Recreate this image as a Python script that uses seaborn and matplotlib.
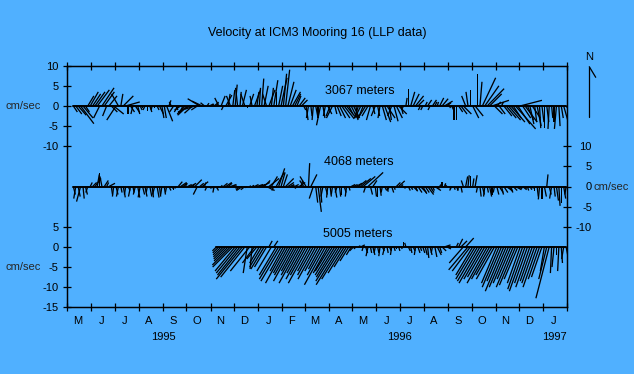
import numpy as np
import pandas as pd
import matplotlib
matplotlib.use("Agg")
import matplotlib.pyplot as plt
from matplotlib.lines import Line2D
import seaborn as sns

# ---------------- data ----------------
t0 = pd.Timestamp("1995-05-01")
month_letters = ["M", "J", "J", "A", "S", "O", "N", "D", "J", "F", "M",
                 "A", "M", "J", "J", "A", "S", "O", "N", "D", "J"]
year_labels = ["1995", "1996", "1997"]
year_dates = ["1995-09-01", "1996-07-01", "1997-01-16"]
depth_labels = ["3067 meters", "4068 meters", "5005 meters"]
depth_offsets = [0, -20, -35]          # baseline of each depth on the shared axis
first_month = [0, 0, 6]                # May 1995, May 1995, Nov 1995

left_tick_pos = [10, 5, 0, -5, -10, -30, -35, -40, -45, -50]
left_tick_lab = ["10", "5", "0", "-5", "-10", "5", "0", "-5", "-10", "-15"]
right_tick_pos = [-10, -15, -20, -25, -30]
right_tick_lab = ["10", "5", "0", "-5", "-10"]

# 3067 m : east (u) and north (v) velocity, cm/s, 10 samples per month (May95..Jan97)
u_3067 = [0, 0, 1, 1.5, 2, 3.3, 2.5, 1, 1.5, 2,
          2, 2.5, 3, -1.5, 3, 2.5, -1, 2, 1.5, 2.5,
          -2.3, -1.7, 0.5, 2.5, 3.5, 0, 1, -0.5, 1, 0.5,
          0.5, 0, -0.5, 0, 0.5, -0.3, 0, 0.5, 1, 0.5,
          0.5, 1.5, 0.5, -0.5, -1, 0.5, -1, -1.5, -1, -2,
          -2.5, -3, -2, -2.5, -1.5, -3, -2.5, -1, 0.5, 1,
          0.5, 1, 0.5, -1, 1, -0.5, 1.5, 0.5, -1, 0.5,
          0.5, -0.5, 0.3, 1, -1, 0, 1, -0.5, 1.5, 0.5,
          0.3, 0.5, 1, -1, 1.5, 0.5, 1, 0, 1, 1.5,
          0.8, 1, 1.5, 1.5, 2, 1.5, 1, 1.5, 1.5, 0.5,
          0.5, -0.5, 0.3, -0.3, 0.5, 0, -1, 0.5, -0.5, 1,
          -1, -1.5, 0.5, 1, 1.5, 2, 2.5, 2, 1, 1.5,
          1.5, 0.5, -1, -1.5, -1, -2, -1.5, -1, 0.5, -1,
          0.5, -0.5, 1, 1.5, 2, 0.5, -1, 1, 1.5, 2,
          0.5, -0.5, 0.3, 0, 1, 1.5, 2, 1.5, -0.5, -0.5,
          0.5, 1, -0.5, 1, 0.5, 0.3, 1, 1.5, 2, 1,
          0.3, 0.5, 0, 0, 1, 1.5, 2, -1, -0.5, 0,
          1.5, 2, 0, 0.5, 3.3, 3.5, 4.2, 3, 4.2, 2,
          1, 1.5, 0.5, 2, 2.5, 3, 3.5, 2, 5, 3,
          5.4, 2, 3, 1.5, 1, 2, 0.5, 1, 0.3, 0.5,
          0, 0.5, -0.3, 0.3, 0, -0.5, 0.3, 0.5, 1, 1.5]
v_3067 = [0, 0, -1.5, -2, -2.3, -4.4, -3, -1.5, 2.5, 3.5,
          3, 3.5, 4, -3, 4.5, 3.5, -2.5, 2.5, -1.5, -2,
          -3.5, 3, 3, 2.5, 1, -2, -1.5, -2, -1.5, -2,
          -1, -0.5, -1, -1.3, -1.5, -1, -0.5, -1, -2, -3,
          -3, -3.8, 1.4, 1, -1.5, -1, -1.5, -1, -2, -2,
          -2.3, -1.5, -1.8, -0.8, -1, 1.8, 1.2, 0.8, 0.7, 0.5,
          0.5, 0.8, 1, 2, 2.5, -1, 2.7, 3, 2.5, 4,
          5.3, 4.5, 3.5, 4, 3, -0.5, 3, 2.5, 4, 3.5,
          4.5, 6.8, 5, 3, 4, 4.5, 6.4, 3.5, 5, 7,
          8, 9, 6, 4, 3.5, 3, 2.5, 2, 1.5, -1,
          -3.5, -3, -2.5, -3.5, -2.5, -3, -4.8, -3, -2.5, -2,
          -2.5, -3, -2, -2.5, -3, -3, -3.2, -2.5, -2, -3,
          -3, -3.5, -3, -3, -2.5, -3.2, -2.5, -3.5, -2, -2.5,
          -2.5, -3, -3.5, -4, -3, -3.5, -2.5, -3.8, -3, -2,
          -2, -1, 2, 4.3, 3.5, 3, 2.5, 1.5, -1, -1,
          1, 1.5, -1, 1.5, 1, 1, 2, 1.8, 1.2, 0.8,
          -0.5, -1, -3.6, -3.4, -1.5, -2, -2, 2.5, 3.5, 4,
          -3, -2.5, 8, 6, 7, 5, 4.3, 3, 1.4, -2,
          1, -2, 1, -2.5, -3, -3.5, -4, -3, -5.7, -4.5,
          1.4, -3, -4, -3.5, -4.5, -3, -4, -5, -5.5, -4,
          -5.5, -4, -5.7, -3, -4, -5.7, -5, -3, -3.5, -2]

# 4068 m
u_4068 = [0, 0, 0.5, -0.5, 0.5, -1, 0.3, 0.5, -0.5, 0.5,
          1, 1.5, 0.5, 0, -0.5, 1, 0.5, 1.5, 0.3, -0.3,
          0.5, -0.5, 0.3, 0.5, -0.3, 0.5, -0.5, 0.3, -0.5, 0.5,
          -0.5, 0.5, 0.5, -0.3, 0.5, 0.3, -0.5, 0.5, 0.3, -0.3,
          0.3, -0.3, 0.5, 0.5, 0, -0.3, 1, 1.5, 1, 0.5,
          1, 1.5, 0.5, 1.7, -1, 1, 1.5, 0.3, -0.5, 0.5,
          0.5, -0.3, 0.5, -0.5, 0.3, 1, 1.5, 1, 1.5, 0.5,
          0.3, -0.5, -1, -1.5, -1, -0.5, 0.3, 0.5, 1, 1.5,
          1.5, 2, 1.5, 2, 2.5, 1.5, -0.5, 2, 1.5, 1,
          1, 2, 1.5, 1, 0.5, 1, -0.5, 1.5, 0.3, -1,
          -1.5, 0.3, 1.5, -1, 0.5, 0.8, 0.3, -0.5, 0.5, -0.3,
          0.3, -0.3, 0.5, -0.5, 0.3, 0, 0.5, -0.3, 0.3, 1,
          1, 1.5, 2, 2.5, 3, -0.5, 3.75, 0.5, 1, 0.3,
          0, 0.3, -0.3, 0.5, 0.3, -0.5, 0.5, 0.3, 1, 1.5,
          0.5, 0.3, -0.3, 0.5, 0.5, 1, 0.5, 1, 1.5, 1,
          1, 1.5, 1, 0.5, 1.5, 0.5, 0.3, 0, 0.3, -0.5,
          0.3, -0.5, 0.3, 0.5, -0.3, 0.3, -0.5, 0.5, 0.3, 0,
          0.3, 0.5, -0.3, 0.3, 0.5, -0.3, 0.3, 0.5, 0, -0.3,
          0.5, 1, 0.5, 1, 1.5, 1, 0.5, 1, 1.5, 1,
          0.5, 1, 0.5, 0.3, 0.5, 0.3, 0, 0.3, -0.3, 0,
          0.5, 0.3, 0.5, -0.5, 0.3, 0.5, 0.3, 0, 0.5, -0.3]
v_4068 = [0, 0, -2, -3, -2.5, -3.75, -3, -2, -1.5, 1,
          1, 2, 3, 3.3, 2.5, 1.5, 1, 0.8, -2, -2.5,
          -2, -2.5, -1.5, -2.7, -2, -1, -2.5, -1.5, -2, -2.75,
          -2.7, -2, -2.5, -1.5, -2.5, -2.7, -2, -2.75, -2.5, -2,
          -2, -1.5, -1, -0.5, -0.8, -0.5, 1.2, 1, 0.8, 0.8,
          0.5, 0.8, 0.5, 1.7, -2, 0.8, 1.2, 1, -1, -0.5,
          -0.5, -1.5, -1, -0.5, 0.3, 0.8, 1, 0.8, 0.5, 0.3,
          0.3, -0.5, -0.8, -1, -0.8, -0.3, 0.2, 0.3, 0.5, 0.5,
          0.5, 1, 1.5, -1, 2, 2.5, -1, 3.5, 4.5, 3.5,
          3, 2, 1, 0.5, 0.3, 0.5, -0.5, 1, 1.5, 1.5,
          2.5, 5.8, 3, -3, -4, -6.3, -4, -2.5, -2, -2.75,
          -2.5, -2, -2.75, -1.5, -2.5, -2, -1.5, -2.5, -1, 0.5,
          0.5, 0.8, 1.5, 2, 2.5, -1.5, 3.5, -2, 1.5, -2.5,
          -2.5, -2.3, -1.5, -1, -1.3, -1, -1.5, -0.8, 1, 1.4,
          0.5, -0.3, -0.5, -1, -0.8, -1, -1.2, -1.5, -1.5, -1.8,
          -1.5, -2, -1.5, -1, -1, -0.5, 0.5, 1, 0.8, 0.5,
          -0.5, -1, -0.8, -1, -1, -1.5, 1.5, 2.5, 2.8, 2.5,
          2, 2.8, -1.5, -2.5, -2, -2.5, -1.5, -2.5, -2, -1.5,
          -2, -1.5, -2, -1.5, -1, -1.2, -1.5, -1, -0.8, -0.5,
          -0.5, -0.8, -0.5, -1, -0.8, -0.5, -1, -2.5, -3.2, -3,
          -2.5, 3, -2, -3, -2.5, -3.5, -4.8, -4, -3, -2]

# 5005 m : 10 samples per month (Nov95..Jan97)
u_5005 = [0, 0, -1, -1.5, -2, -2.5, -3, -3.5, -4.5, -5,
          -5, -5.3, -5.6, -6.5, -6, -1, -4.8, -0.5, -3, -2.5,
          -2.4, -3, -3.3, -3, 0.8, -3.6, 1, -4.2, -4.8, -5,
          -3.3, -5, -3.6, -3.9, -4.7, -3.3, -3.9, -5, -3.6, -4.4,
          -3.9, -5, -3.3, -3.9, -4.4, -3.3, -3, -3.9, -5.2, -3.6,
          -3.7, -4.3, -4.6, -5.3, -5.8, -5, -4, -3.1, -2.2, -1.2,
          -1, -0.5, 0.5, 1, -0.3, 0.5, -0.5, 0.3, 0.5, -0.3,
          0.3, -0.3, 0.5, -0.5, 0.3, 0.5, -0.3, 0.3, 0, 0.3,
          0.3, 0, -0.3, 0.5, 0.3, 0.5, -0.3, 0.5, 0.3, 0.5,
          0.5, 0.3, 0.5, -0.3, 0.5, 1, 0.5, 1, 1.5, 1,
          0, 0, 0, 0.5, 1, 1.5, -3.5, 2, -4.8, -4.5,
          -4.2, -4.8, -5, -5.2, -4.6, -4.3, -5, -4.5, -4, -4.5,
          -3.8, -4.2, -3.6, -4.6, -4.2, -3.8, -3.4, -4.2, -4, -3.4,
          -3.2, -3.7, -3.9, -3.2, -3.5, -3, -3.2, -3.5, -2.8, -2.6,
          -1, -2, -3.3, -0.3, -0.5, 0, -0.3, 0.3, -0.5, 0.5]
v_5005 = [0, 0, -1, -1.5, -2, -2.5, -3, -3.5, -4.5, -5,
          -6, -6.5, -7, -8, -7.5, -6.5, -6, -5.5, -4, -3,
          -4, -5, -5.5, -5, 1.5, -6, 1.5, -7, -8, -8.5,
          -6, -9, -6.5, -7, -8.5, -6, -7, -9, -6.5, -8,
          -7, -9, -6, -7, -8, -6, -5.5, -7, -9.4, -6.5,
          -6, -7, -7.5, -8.5, -9.4, -8, -6.5, -5, -3.5, -2,
          -1, -0.5, 0.3, 0.5, -1, -1.5, -2.3, -1.5, -2, -1.5,
          -1.5, -2.3, -1, -2, -1.5, -1, -2, -1, -0.5, -1,
          -0.5, 1.2, 1, -1, -1.5, -1, -2, -1.5, -1, -1.5,
          -2, -2.75, -2, -1.5, -2.5, -2, -1.5, -1, 0.5, -0.5,
          0, 0, 0, 1, 2, 1.5, -4, 2.2, -5.7, -6,
          -7, -8, -8.5, -9, -8, -7.5, -9, -8, -7, -8,
          -9, -10, -8.5, -11, -10, -9, -8, -10, -9.5, -8,
          -9, -10.5, -11, -9, -10, -8.5, -9, -10, -8, -7.5,
          -6, -8, -12.75, -6.5, -5, -2, -6, -4, -3, -2.5]

series_u = [u_3067, u_4068, u_5005]
series_v = [v_3067, v_4068, v_5005]

# ---------------- style ----------------
BG = "#50B0FF"
sns.set_style("ticks")
plt.rcParams["font.family"] = ["Liberation Sans", "DejaVu Sans"]
plt.rcParams["axes.facecolor"] = BG
plt.rcParams["figure.facecolor"] = BG

fig = plt.figure(figsize=(6.34, 3.74), dpi=100)
ax = fig.add_axes([67.3 / 634, 1 - 307.3 / 374, 500 / 634, 241.6 / 374])
ax.set_facecolor(BG)

month_edges = pd.date_range("1995-05-01", "1997-02-01", freq="MS")
edge_days = np.asarray((month_edges - t0).days, dtype=float)


def sample_days(m0, n, per=10):
    out = []
    for m in range(m0, m0 + n // per):
        a, b = edge_days[m], edge_days[m + 1]
        out.extend(a + (np.arange(per) + 0.5) * (b - a) / per)
    return np.array(out)


for u, v, off, m0 in zip(series_u, series_v, depth_offsets, first_month):
    u = np.asarray(u, float)
    v = np.asarray(v, float)
    days = sample_days(m0, len(u))
    nz = np.nonzero((u != 0) | (v != 0))[0]
    base_x = days[nz[0]:nz[-1] + 1]
    sns.lineplot(x=base_x, y=np.full(len(base_x), float(off)), ax=ax,
                 color="black", lw=1.4, estimator=None, legend=False)
    ax.quiver(days, np.full(len(days), float(off)), u, v,
              angles="uv", scale_units="y", scale=1, pivot="tail",
              headwidth=0, headlength=0, headaxislength=0, minlength=0,
              units="dots", width=1.3, color="black", zorder=3)

ax.set_xlim(edge_days[0], edge_days[-1])
ax.set_ylim(-50, 10)

# x axis: month boundaries as ticks, month initials inside each month
ax.set_xticks(edge_days)
ax.set_xticklabels([])
mid_days = (edge_days[:-1] + edge_days[1:]) / 2 - 2.5
ax.set_xticks(mid_days, minor=True)
ax.set_xticklabels(month_letters, minor=True, fontsize=8)
ax.tick_params(axis="x", which="major", direction="inout", length=5.4,
               width=0.9, top=True, bottom=True, color="black")
ax.tick_params(axis="x", which="minor", length=0, pad=6.5, labelsize=8,
               labelcolor="black")

for lab, d in zip(year_labels, year_dates):
    xd = (pd.Timestamp(d) - t0).days
    ax.text(xd, -0.125, lab, transform=ax.get_xaxis_transform(),
            ha="center", va="center", fontsize=8, color="black")

# left y axis (3067 m and 5005 m scales)
ax.set_yticks(left_tick_pos)
ax.set_yticklabels(left_tick_lab, fontsize=8)
ax.tick_params(axis="y", direction="inout", length=5.4, width=0.9,
               pad=3.6, colors="black")

# right y axis (4068 m scale)
ax2 = ax.twinx()
ax2.set_ylim(-50, 10)
ax2.set_yticks(right_tick_pos)
ax2.set_yticklabels(right_tick_lab, fontsize=8, ha="right")
ax2.tick_params(axis="y", direction="inout", length=5.4, width=0.9,
                pad=15, colors="black")
for a in (ax, ax2):
    for s in a.spines.values():
        s.set_linewidth(0.9)
        s.set_color("black")

ytr = ax.get_yaxis_transform()
ax.text(-0.1246, 0, "cm/sec", transform=ytr, ha="left", va="center", fontsize=8)
ax.text(-0.1246, -40, "cm/sec", transform=ytr, ha="left", va="center", fontsize=8)
ax.text(1.053, -20, "cm/sec", transform=ytr, ha="left", va="center", fontsize=8)

# depth labels
label_days = [376, 374, 372.5]
label_y = [3.8, -13.9, -31.7]
for lab, xd, yd in zip(depth_labels, label_days, label_y):
    ax.text(xd, yd, lab, ha="center", va="center", fontsize=9, color="black")

fig.text(0.5, 1 - 33 / 374, "Velocity at ICM3 Mooring 16 (LLP data)",
         ha="center", va="center", fontsize=9, color="black")

# north indicator
fig.text(589.5 / 634, 1 - 56.5 / 374, "N", ha="center", va="center",
         fontsize=8, color="black")
fig.add_artist(Line2D([589.3 / 634, 589.3 / 634], [1 - 66.7 / 374, 1 - 116.7 / 374],
                      transform=fig.transFigure, color="black", lw=0.9))
fig.add_artist(Line2D([589.3 / 634, 595.7 / 634], [1 - 66.7 / 374, 1 - 77.3 / 374],
                      transform=fig.transFigure, color="black", lw=0.9))

fig.savefig("out.png", dpi=100, facecolor=BG)
